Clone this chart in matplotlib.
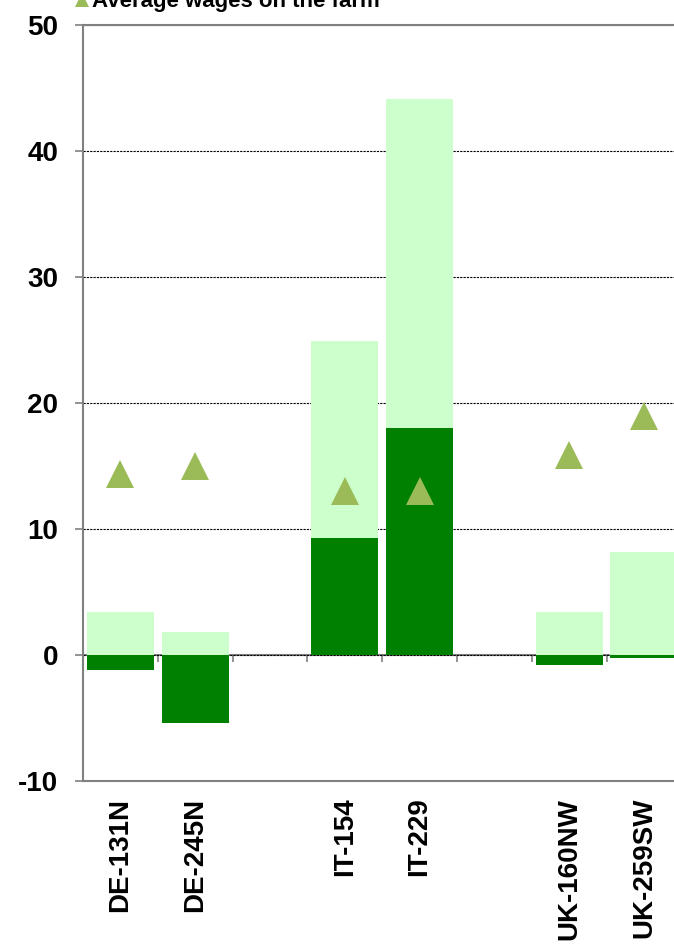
import matplotlib
matplotlib.use("Agg")
import matplotlib.pyplot as plt
from matplotlib.lines import Line2D
import numpy as np

plt.rcParams['font.family'] = ['Liberation Sans', 'DejaVu Sans']
plt.rcParams['font.weight'] = 'bold'
plt.rcParams['axes.unicode_minus'] = False

# farms (empty slots separate the countries)
farms = ['DE-131N', 'DE-245N', '', 'IT-154', 'IT-229', '', 'UK-160NW', 'UK-259SW']
light_vals = [3.4, 1.8, np.nan, 24.9, 44.1, np.nan, 3.4, 8.2]
dark_vals = [-1.2, -5.4, np.nan, 9.3, 18.0, np.nan, -0.8, -0.2]
avg_wages = [14.4, 15.0, np.nan, 13.0, 13.0, np.nan, 15.9, 19.0]

grey = '#808080'
light_green = '#CCFFCC'
dark_green = '#008000'
olive = '#9BBB59'

fig = plt.figure(figsize=(6.74, 9.48), dpi=100)
ax = fig.add_axes([83 / 674, 1 - 781 / 948, 598.4 / 674, 756 / 948])

x = np.arange(len(farms))
ax.bar(x, light_vals, width=0.9, color=light_green, zorder=2)
ax.bar(x, dark_vals, width=0.9, color=dark_green, zorder=3)
ax.plot(x, avg_wages, linestyle='none', marker='^', markersize=20,
        color=olive, markeredgewidth=0, zorder=4)

ax.set_xlim(-0.5, len(farms) - 0.5)
ax.set_ylim(-10, 50)
ax.set_yticks(np.arange(-10, 51, 10))
ax.yaxis.grid(True, color='black', linestyle=(0, (2, 1)), linewidth=0.8)
ax.set_axisbelow(True)

ax.set_xticks(x)
ax.set_xticklabels(farms, rotation=90, fontsize=20, fontweight='bold', va='top')
ax.tick_params(axis='x', length=0, pad=12)
ax.tick_params(axis='y', length=6, width=1.2, color=grey, labelsize=20, pad=12)

for side in ['left', 'top', 'bottom', 'right']:
    ax.spines[side].set_color(grey)
    ax.spines[side].set_linewidth(1.5)

# category axis crossing at zero
zero_ax = ax.secondary_xaxis(0, transform=ax.transData)
zero_ax.set_xticks(x[:-1] + 0.5)
zero_ax.set_xticklabels([])
zero_ax.tick_params(axis='x', direction='out', length=5, width=1.2, color=grey)
zero_ax.spines['bottom'].set_color(grey)
zero_ax.spines['bottom'].set_linewidth(1.5)

# legend entry at the top
fig.add_artist(Line2D([81.5 / 674], [1 - 0 / 948], marker='^', markersize=10,
                      color=olive, markeredgewidth=0, transform=fig.transFigure))
fig.text(92 / 674, 1 - 7 / 948, 'Average wages on the farm', fontsize=16,
         fontweight='bold', ha='left', va='baseline')

fig.savefig('out.png', dpi=100)
